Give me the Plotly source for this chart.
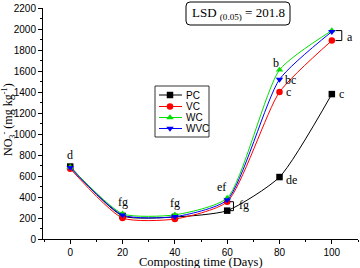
import plotly.graph_objects as go

days = [0, 20, 40, 60, 80, 100]
series_names = ["PC", "VC", "WC", "WVC"]
pc = [690, 220, 210, 270, 590, 1380]
vc = [670, 200, 190, 355, 1400, 1890]
wc = [685, 240, 230, 390, 1610, 1985]
wvc = [680, 228, 212, 372, 1520, 1975]

colors = ["#000000", "#ff0000", "#00e000", "#0000ff"]
symbols = ["square", "circle", "triangle-up", "triangle-down"]

serif = "Liberation Serif, Times New Roman, serif"
sans = "Liberation Sans, Arial, sans-serif"

# plot area in pixels
L, R, T, B = 43, 358, 8, 239
W, H = 360, 268

def px(x):
    return (x - L) / (R - L)

def py(y):
    return (B - y) / (B - T)

fig = go.Figure()
for name, vals, col, sym in zip(series_names, [pc, vc, wc, wvc], colors, symbols):
    fig.add_trace(go.Scatter(
        x=days, y=vals, name=name, mode="lines+markers", showlegend=False,
        line=dict(color=col, width=1, shape="spline", smoothing=0.6),
        marker=dict(color=col, symbol=sym, size=6.5),
    ))

# custom legend drawn on an overlay pixel axis
leg_box = (155, 209, 86, 137)
leg_rows = [95, 106.5, 117.5, 128.5]
for name, col, sym, ry in zip(series_names, colors, symbols, leg_rows):
    fig.add_trace(go.Scatter(x=[159, 170, 182], y=[ry, ry, ry], xaxis="x2", yaxis="y2",
                             mode="lines", line=dict(color=col, width=1),
                             showlegend=False, hoverinfo="skip"))
    fig.add_trace(go.Scatter(x=[170], y=[ry], xaxis="x2", yaxis="y2", mode="markers",
                             marker=dict(color=col, symbol=sym, size=6.5),
                             showlegend=False, hoverinfo="skip"))

ann = []
for name, ry in zip(series_names, leg_rows):
    ann.append(dict(x=px(184), y=py(ry), xref="paper", yref="paper", text=name, showarrow=False,
                    xanchor="left", yanchor="middle",
                    font=dict(family=sans, size=10, color="black")))

# significance letters
def letter(x, y, t, xs=0, ys=0, xa="center", ya="middle"):
    ann.append(dict(x=x, y=y, text=t, showarrow=False, xref="x", yref="y",
                    xshift=xs, yshift=ys, xanchor=xa, yanchor=ya,
                    font=dict(family=serif, size=12, color="black")))

all_series = [pc, vc, wc, wvc]
top = lambda i: max(s[i] for s in all_series)
letter(days[0], top(0), "d", ys=12)
letter(days[1], top(1), "fg", ys=12)
letter(days[2], top(2), "fg", ys=12)
letter(days[3], wc[3], "ef", xs=-6, ys=11)
letter(days[3], pc[3], "fg", xs=10, ys=6, xa="left")
letter(days[4], pc[4], "de", xs=4, ys=-3, xa="left")
letter(days[5], pc[5], "c", xs=5, xa="left")
letter(days[4], vc[4], "c", xs=4, xa="left")
letter(days[4], wvc[4], "bc", xs=3, ys=-1, xa="left")
letter(days[4], wc[4], "b", xs=-4, ys=7)
letter(days[5], wc[5], "a", xs=13, ys=-6, xa="left")

shapes = []
def bracket(xd, ytop, ybot, x_in, x_out):
    for y in (ytop, ybot):
        shapes.append(dict(type="line", xref="x", yref="y", x0=xd + x_in, x1=xd + x_out,
                           y0=y, y1=y, line=dict(color="black", width=1)))
    shapes.append(dict(type="line", xref="x", yref="y", x0=xd + x_out, x1=xd + x_out,
                       y0=ytop, y1=ybot, line=dict(color="black", width=1)))

bracket(days[3], vc[3], pc[3], 1.0, 2.4)
bracket(days[5], wc[5], vc[5], 1.4, 3.8)

# legend border
shapes.append(dict(type="rect", xref="paper", yref="paper", x0=px(leg_box[0]), x1=px(leg_box[1]),
                   y0=py(leg_box[2]), y1=py(leg_box[3]), line=dict(color="#333", width=1),
                   fillcolor="rgba(0,0,0,0)", layer="below"))

# LSD rounded box in paper coords
x0, x1, y0, y1 = px(186), px(290), py(25), py(2)
rx, ry_ = 4 / (R - L), 4 / (B - T)
path = (f"M {x0+rx},{y0} L {x1-rx},{y0} Q {x1},{y0} {x1},{y0+ry_} "
        f"L {x1},{y1-ry_} Q {x1},{y1} {x1-rx},{y1} L {x0+rx},{y1} "
        f"Q {x0},{y1} {x0},{y1-ry_} L {x0},{y0+ry_} Q {x0},{y0} {x0+rx},{y0} Z")
shapes.append(dict(type="path", xref="paper", yref="paper", path=path,
                   line=dict(color="black", width=1)))
ann.append(dict(x=(x0 + x1) / 2, y=(y0 + y1) / 2, xref="paper", yref="paper",
                xanchor="center", yanchor="middle",
                text="LSD <sub>(0.05)</sub> = 201.8", showarrow=False,
                font=dict(family=serif, size=13, color="black")))

# axis titles
ann.append(dict(x=0.5, y=py(262), xref="paper", yref="paper", text="Composting time (Days)",
                xanchor="center", yanchor="middle",
                showarrow=False, font=dict(family=serif, size=12.5, color="black")))
ann.append(dict(x=px(8), y=py(120), xref="paper", yref="paper", textangle=-90,
                xanchor="center", yanchor="middle",
                text="NO<sub>3</sub><sup>-</sup> (mg kg<sup>-1</sup>)", showarrow=False,
                font=dict(family=serif, size=12, color="black")))

fig.update_layout(
    width=W, height=H,
    margin=dict(l=L, r=W - R, t=T, b=H - B, autoexpand=False),
    paper_bgcolor="white", plot_bgcolor="white",
    annotations=ann, shapes=shapes, showlegend=False,
    xaxis=dict(range=[-10.4, 110], tickvals=days, showgrid=False, zeroline=False,
               showline=True, linecolor="black", linewidth=1, automargin=False,
               ticks="outside", ticklen=4, tickcolor="black",
               minor=dict(ticks="outside", ticklen=2, dtick=10, tickcolor="black"),
               tickfont=dict(family=sans, size=10, color="black")),
    yaxis=dict(range=[0, 2200], dtick=200, showgrid=False, zeroline=False,
               showline=True, linecolor="black", linewidth=1, automargin=False,
               ticks="outside", ticklen=4, tickcolor="black",
               minor=dict(ticks="outside", ticklen=2, dtick=100, tickcolor="black"),
               tickfont=dict(family=sans, size=10, color="black")),
    xaxis2=dict(overlaying="x", anchor="y2", range=[L, R], visible=False, fixedrange=True),
    yaxis2=dict(overlaying="y", anchor="x2", range=[B, T], visible=False, fixedrange=True),
)

fig.write_html("out.html", config={"displayModeBar": False},
               post_script="document.body.style.margin='0';")
